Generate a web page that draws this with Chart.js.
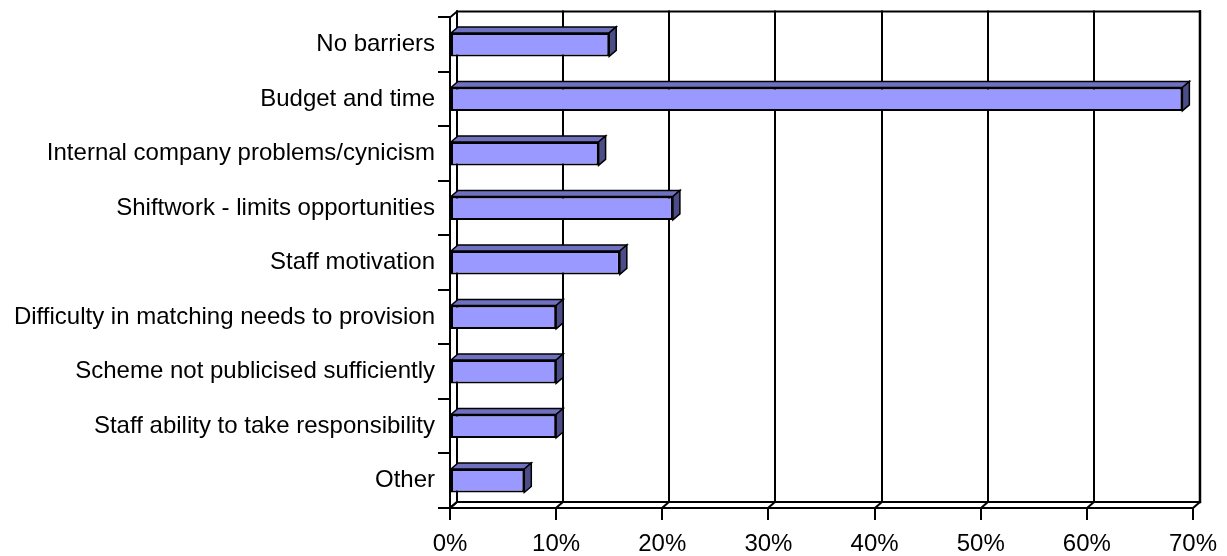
<!DOCTYPE html>
<html>
<head>
<meta charset="utf-8">
<title>Barriers</title>
<script src="https://cdn.jsdelivr.net/npm/chart.js@4"></script>
<style>
  html, body { margin: 0; padding: 0; background: #ffffff; }
  canvas { display: block; }
</style>
</head>
<body>
<canvas id="chart" width="1227" height="556"></canvas>
<script>
// Reported barriers, share of respondents (%)
const categories = [
  'No barriers',
  'Budget and time',
  'Internal company problems/cynicism',
  'Shiftwork - limits opportunities',
  'Staff motivation',
  'Difficulty in matching needs to provision',
  'Scheme not publicised sufficiently',
  'Staff ability to take responsibility',
  'Other'
];
const shares = [15, 69, 14, 21, 16, 10, 10, 10, 7];
const percentTicks = [0, 10, 20, 30, 40, 50, 60, 70];

// depth of the 3-D box (right and up)
const DX = 7, DY = -6;
const FACE = '#9999ff', TOP = '#7070c0', SIDE = '#4c4c88';

const box3d = {
  id: 'box3d',
  beforeDatasetsDraw(chart) {
    const ctx = chart.ctx, ca = chart.chartArea, xs = chart.scales.x;
    const l = ca.left + DX, r = ca.right + DX, t = ca.top + DY, b = ca.bottom + DY;
    ctx.save();
    ctx.strokeStyle = '#000';
    ctx.lineWidth = 2;
    ctx.lineCap = 'square';
    // back wall grid lines, continued across the floor
    percentTicks.forEach(v => {
      const px = Math.round(xs.getPixelForValue(v)) + DX;
      ctx.beginPath();
      ctx.moveTo(px, t);
      ctx.lineTo(px, b);
      ctx.moveTo(px - DX, ca.bottom);
      ctx.lineTo(px, b);
      ctx.stroke();
    });
    // back wall outline
    ctx.beginPath();
    ctx.moveTo(l, t); ctx.lineTo(r, t);
    ctx.moveTo(l, b); ctx.lineTo(r, b);
    ctx.stroke();
    ctx.lineWidth = 2.5;
    ctx.beginPath();
    ctx.moveTo(r, t); ctx.lineTo(r, b);
    ctx.stroke();
    ctx.lineWidth = 2;
    // side wall edges
    ctx.beginPath();
    ctx.moveTo(ca.left, ca.top); ctx.lineTo(l, t);
    ctx.moveTo(ca.left, ca.bottom); ctx.lineTo(l, b);
    ctx.stroke();
    ctx.restore();
  },
  afterDatasetsDraw(chart) {
    const ctx = chart.ctx;
    const meta = chart.getDatasetMeta(0);
    ctx.save();
    ctx.strokeStyle = '#000';
    ctx.lineWidth = 1.5;
    ctx.lineJoin = 'miter';
    meta.data.forEach(bar => {
      const p = bar.getProps(['x', 'y', 'base', 'height'], true);
      const x0 = p.base, x1 = p.x;
      const y0 = p.y - p.height / 2, y1 = p.y + p.height / 2;
      // top face
      ctx.beginPath();
      ctx.moveTo(x0, y0); ctx.lineTo(x1, y0);
      ctx.lineTo(x1 + DX, y0 + DY); ctx.lineTo(x0 + DX, y0 + DY);
      ctx.closePath();
      ctx.fillStyle = TOP; ctx.fill(); ctx.stroke();
      // end face
      ctx.beginPath();
      ctx.moveTo(x1, y0); ctx.lineTo(x1 + DX, y0 + DY);
      ctx.lineTo(x1 + DX, y1 + DY); ctx.lineTo(x1, y1);
      ctx.closePath();
      ctx.fillStyle = SIDE; ctx.fill(); ctx.stroke();
    });
    ctx.restore();
  }
};

const font = { family: "'Liberation Sans', Arial, sans-serif", size: 24 };

new Chart(document.getElementById('chart'), {
  type: 'bar',
  data: {
    labels: categories,
    datasets: [{
      data: shares,
      backgroundColor: FACE,
      borderColor: '#000',
      borderWidth: 2,
      borderSkipped: false,
      barPercentage: 0.43,
      categoryPercentage: 1
    }]
  },
  options: {
    indexAxis: 'y',
    responsive: false,
    animation: false,
    events: [],
    layout: { padding: { top: 15, right: 33, left: 0, bottom: 0 } },
    plugins: { legend: { display: false }, tooltip: { enabled: false } },
    scales: {
      x: {
        min: 0, max: 70,
        afterBuildTicks: s => { s.ticks = percentTicks.map(v => ({ value: v })); },
        afterFit: s => { s.height = 48; },
        grid: { drawOnChartArea: false, drawTicks: true, tickLength: 12, color: '#000', lineWidth: 2 },
        border: { display: true, color: '#000', width: 2 },
        ticks: { color: '#000', font, padding: 10, maxRotation: 0, callback: v => v + '%' }
      },
      y: {
        afterFit: s => { s.width = 450; },
        grid: { drawOnChartArea: false, drawTicks: true, tickLength: 12, color: '#000', lineWidth: 2, offset: true },
        border: { display: true, color: '#000', width: 2 },
        ticks: { color: '#000', font, padding: 3 }
      }
    }
  },
  plugins: [box3d]
});
</script>
</body>
</html>
